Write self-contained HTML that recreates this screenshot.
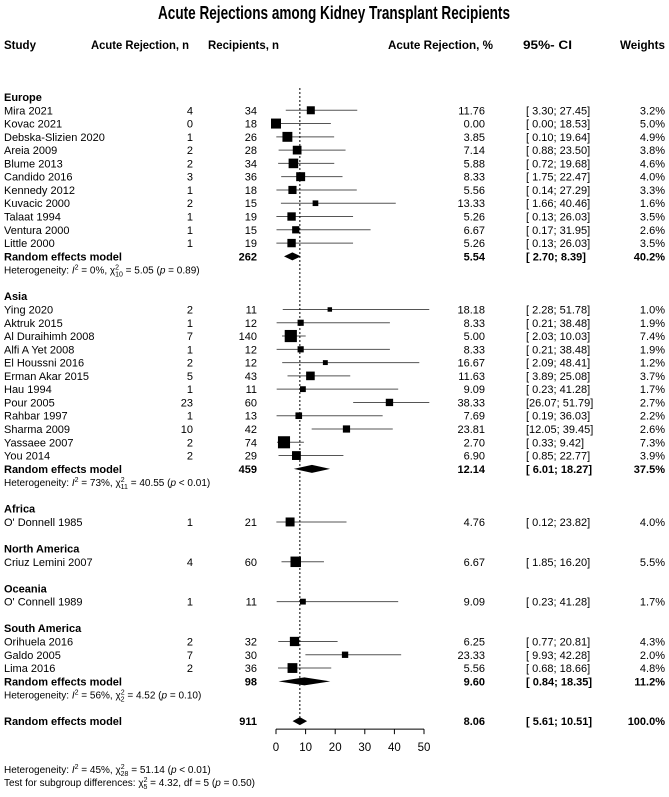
<!DOCTYPE html>
<html><head><meta charset="utf-8"><style>
body{margin:0;background:#fff}
svg{display:block;font-family:"Liberation Sans",Arial,sans-serif}
</style></head><body>
<svg id="chart" width="669" height="797" viewBox="0 0 669 797" xmlns="http://www.w3.org/2000/svg">
<text x="334" y="19" text-anchor="middle" font-size="18" font-weight="bold" textLength="352" lengthAdjust="spacingAndGlyphs">Acute Rejections among Kidney Transplant Recipients</text>
<g font-size="12" font-weight="bold">
<text x="4" y="49" textLength="32" lengthAdjust="spacingAndGlyphs">Study</text>
<text x="91" y="49" textLength="98" lengthAdjust="spacingAndGlyphs">Acute Rejection, n</text>
<text x="208" y="49" textLength="71" lengthAdjust="spacingAndGlyphs">Recipients, n</text>
<text x="388" y="49" textLength="105" lengthAdjust="spacingAndGlyphs">Acute Rejection, %</text>
<text x="523" y="49" textLength="49" lengthAdjust="spacingAndGlyphs">95%- CI</text>
<text x="620" y="49" textLength="45" lengthAdjust="spacingAndGlyphs">Weights</text>
</g>
<g id="body"></g>
</svg>
<script>
const groupNames = ["Europe","Asia","Africa","North America","Oceania","South America"];
const studyNames = [
["Mira 2021","Kovac 2021","Debska-Slizien 2020","Areia 2009","Blume 2013","Candido 2016","Kennedy 2012","Kuvacic 2000","Talaat 1994","Ventura 2000","Little 2000"],
["Ying 2020","Aktruk 2015","Al Duraihimh 2008","Alfi A Yet 2008","El Houssni 2016","Erman Akar 2015","Hau 1994","Pour 2005","Rahbar 1997","Sharma 2009","Yassaee 2007","You 2014"],
["O' Donnell 1985"],["Criuz Lemini 2007"],["O' Connell 1989"],
["Orihuela 2016","Galdo 2005","Lima 2016"]];
const events = [[4,0,1,2,2,3,1,2,1,1,1],[2,1,7,1,2,5,1,23,1,10,2,2],[1],[4],[1],[2,7,2]];
const recipients = [[34,18,26,28,34,36,18,15,19,15,19],[11,12,140,12,12,43,11,60,13,42,74,29],[21],[60],[11],[32,30,36]];
const estimates = [[11.76,0.00,3.85,7.14,5.88,8.33,5.56,13.33,5.26,6.67,5.26],[18.18,8.33,5.00,8.33,16.67,11.63,9.09,38.33,7.69,23.81,2.70,6.90],[4.76],[6.67],[9.09],[6.25,23.33,5.56]];
const lower = [[3.30,0.00,0.10,0.88,0.72,1.75,0.14,1.66,0.13,0.17,0.13],[2.28,0.21,2.03,0.21,2.09,3.89,0.23,26.07,0.19,12.05,0.33,0.85],[0.12],[1.85],[0.23],[0.77,9.93,0.68]];
const upper = [[27.45,18.53,19.64,23.50,19.68,22.47,27.29,40.46,26.03,31.95,26.03],[51.78,38.48,10.03,38.48,48.41,25.08,41.28,51.79,36.03,39.45,9.42,22.77],[23.82],[16.20],[41.28],[20.81,42.28,18.66]];
const weights = [[3.2,5.0,4.9,3.8,4.6,4.0,3.3,1.6,3.5,2.6,3.5],[1.0,1.9,7.4,1.9,1.2,3.7,1.7,2.7,2.2,2.6,7.3,3.9],[4.0],[5.5],[1.7],[4.3,2.0,4.8]];
const subTotals = [262,459,null,null,null,98];
const subEst = [5.54,12.14,null,null,null,9.60];
const subLo = [2.70,6.01,null,null,null,0.84];
const subHi = [8.39,18.27,null,null,null,18.35];
const subW = [40.2,37.5,null,null,null,11.2];
const subI2 = ["0%","73%",null,null,null,"56%"];
const subDf = ["10","11",null,null,null,"2"];
const subChi = ["5.05","40.55",null,null,null,"4.52"];
const subP = ["= 0.89","< 0.01",null,null,null,"= 0.10"];
const overall = [911,8.06,5.61,10.51,100.0];
const xTicks = [0,10,20,30,40,50];

const NS="http://www.w3.org/2000/svg";
const body=document.getElementById('body');
const X=v=>276+v*(148/50);
const Y0=97, DY=13.28;
const FS=11;
function el(tag,attrs,parent){const e=document.createElementNS(NS,tag);for(const k in attrs)e.setAttribute(k,attrs[k]);(parent||body).appendChild(e);return e;}
function txt(s,x,y,o){const e=el('text',Object.assign({x:x,y:y,'font-size':FS},o||{}));e.textContent=s;return e;}
function ci(lo,hi){const f=v=>{const s=v.toFixed(2);return s.length<5?' '+s:s;};return '['+f(lo)+'; '+f(hi)+']';}
function het(y,I2,df,chi,p,name){
  const t=el('text',{x:4,y:y,'font-size':10});
  
  
  t.innerHTML='Heterogeneity: <tspan font-style="italic">I</tspan><tspan dy="-4" font-size="7">2</tspan><tspan dy="4"> = '+I2+', χ</tspan><tspan dy="-4" font-size="7">2</tspan><tspan dx="-4" dy="7" font-size="7">'+df+'</tspan><tspan dy="-3"> = '+chi+' (</tspan><tspan font-style="italic">p</tspan><tspan> '+p+')</tspan>';
}
const EX=485, CX=526, WX=665;
let row=0;
const yc=r=>Y0+r*DY;
for(let g=0;g<groupNames.length;g++){
  const h=txt(groupNames[g],4,yc(row)+4,{'font-weight':'bold'});
  
  
  row++;
  for(let i=0;i<studyNames[g].length;i++){
    const y=yc(row), b=y+4;
    const gg=el('g',{});
    
    
    gg.appendChild(txt(studyNames[g][i],4,b,{}));
    gg.appendChild(txt(String(events[g][i]),193,b,{'text-anchor':'end'}));
    gg.appendChild(txt(String(recipients[g][i]),257,b,{'text-anchor':'end'}));
    const l=el('line',{x1:X(lower[g][i]),x2:X(upper[g][i]),y1:y,y2:y,stroke:'#555','stroke-width':1},gg);
    
    
    const s=10*Math.sqrt(weights[g][i]/5);
    const sq=el('rect',{x:X(estimates[g][i])-s/2,y:y-s/2,width:s,height:s,fill:'#000'},gg);
    
    
    gg.appendChild(txt(estimates[g][i].toFixed(2),EX,b,{'text-anchor':'end'}));
    gg.appendChild(txt(ci(lower[g][i],upper[g][i]),CX,b,{'xml:space':'preserve'}));
    gg.appendChild(txt(weights[g][i].toFixed(1)+'%',WX,b,{'text-anchor':'end'}));
    row++;
  }
  if(subTotals[g]!==null){
    const y=yc(row), b=y+4;
    const gg=el('g',{'font-weight':'bold'});
    
    
    gg.appendChild(txt('Random effects model',4,b,{}));
    gg.appendChild(txt(String(subTotals[g]),257,b,{'text-anchor':'end'}));
    const d=el('polygon',{points:X(subLo[g])+','+y+' '+X(subEst[g])+','+(y-4)+' '+X(subHi[g])+','+y+' '+X(subEst[g])+','+(y+4),fill:'#000'},gg);
    
    
    gg.appendChild(txt(subEst[g].toFixed(2),EX,b,{'text-anchor':'end'}));
    gg.appendChild(txt(ci(subLo[g],subHi[g]),CX,b,{'xml:space':'preserve'}));
    gg.appendChild(txt(subW[g].toFixed(1)+'%',WX,b,{'text-anchor':'end'}));
    row++;
    het(yc(row)+4,subI2[g],subDf[g],subChi[g],subP[g],'heterogeneity-'+groupNames[g].toLowerCase().replace(/ /g,'-'));
    row++;
  }
  row++;
}
const yo=yc(row), bo=yo+4;
const og=el('g',{'font-weight':'bold'});


og.appendChild(txt('Random effects model',4,bo,{}));
og.appendChild(txt(String(overall[0]),257,bo,{'text-anchor':'end'}));
const od=el('polygon',{points:X(overall[2])+','+yo+' '+X(overall[1])+','+(yo-4)+' '+X(overall[3])+','+yo+' '+X(overall[1])+','+(yo+4),fill:'#000'},og);


og.appendChild(txt(overall[1].toFixed(2),EX,bo,{'text-anchor':'end'}));
og.appendChild(txt(ci(overall[2],overall[3]),CX,bo,{'xml:space':'preserve'}));
og.appendChild(txt(overall[4].toFixed(1)+'%',WX,bo,{'text-anchor':'end'}));
const rl=el('line',{x1:X(overall[1]),x2:X(overall[1]),y1:88,y2:yo,stroke:'#000','stroke-width':1,'stroke-dasharray':'2,2'});


const ay=yo+8;
const ax=el('g',{});


el('line',{x1:X(xTicks[0]),x2:X(xTicks[xTicks.length-1]),y1:ay,y2:ay,stroke:'#000'},ax);
xTicks.forEach(t=>{
  el('line',{x1:X(t),x2:X(t),y1:ay,y2:ay+5,stroke:'#000'},ax);
  ax.appendChild(txt(String(t),X(t),ay+22,{'text-anchor':'middle','font-size':11.5}));
});
het(773,'45%','28','51.14','< 0.01','heterogeneity-overall');
const ts=el('text',{x:4,y:786,'font-size':10});


ts.innerHTML='Test for subgroup differences: χ<tspan dy="-4" font-size="7">2</tspan><tspan dx="-4" dy="7" font-size="7">5</tspan><tspan dy="-3"> = 4.32, df = 5 (</tspan><tspan font-style="italic">p</tspan> = 0.50)';
</script>
</body></html>
